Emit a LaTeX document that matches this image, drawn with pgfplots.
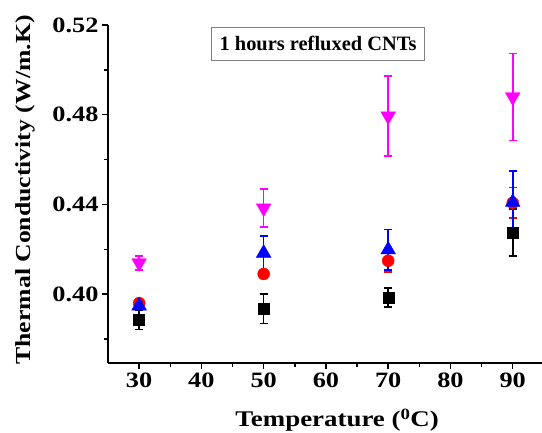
\documentclass[border=0pt]{standalone}
\usepackage{fontspec}
\setmainfont{Liberation Serif}
\newfontfamily\wideb{Liberation Serif Bold}[FakeStretch=1.2]
\usepackage{pgfplots}
\pgfplotsset{compat=1.18}
\definecolor{mag}{RGB}{255,0,255}
\begin{document}
\begin{tikzpicture}
\path[use as bounding box] (-108bp,-70bp) rectangle (434bp,363bp);
\begin{axis}[at={(0,0)}, anchor=south west, scale only axis,
  width=434bp, height=338bp,
  xmin=25, xmax=94.7, ymin=0.3693, ymax=0.52,
  axis x line*=bottom, axis y line*=left,
  axis line style={line width=1.6bp, -},
  xtick={30,40,...,90}, minor xtick={35,45,...,85},
  xticklabels={30,40,50,60,70,80,90},
  ytick={0.40,0.44,0.48,0.52}, minor ytick={0.38,0.42,0.46,0.50},
  yticklabels={0.40,0.44,0.48,0.52},
  tick align=outside, major tick length=6bp, minor tick length=4bp,
  every tick/.style={line width=1.5bp, black},
  ticklabel style={font=\wideb\fontsize{22}{24}\selectfont},
  every axis x label/.style={at={(axis description cs:0.528,-0.169)},anchor=center,
    font=\wideb\fontsize{22.5}{24}\selectfont},
  every axis y label/.style={at={(axis description cs:-0.191,0.512)},anchor=center,rotate=90,
    font=\wideb\fontsize{21.5}{24}\selectfont},
  xlabel={Temperature (\textsuperscript{0}C)},
  ylabel={Thermal Conductivity (W/m.K)},
  clip=false,
  error bars/y dir=both, error bars/y explicit,
  error bars/error bar style={line width=1.6bp},
  error bars/error mark options={rotate=90, mark size=4bp, line width=1.6bp},
]
\addplot[only marks, black, mark=square*, mark size=5.5bp] coordinates {
  (30,0.3885) +- (0,0.0042)
  (50,0.3935) +- (0,0.0066)
  (70,0.3985) +- (0,0.0043)
  (90,0.4275) +- (0,0.0105)
};
\addplot[only marks, red, mark=*, mark size=6bp] coordinates {
  (30,0.3960) +- (0,0.0015)
  (50,0.4090) +- (0,0.0015)
  (70,0.4149) +- (0,0.005)
  (90,0.4407) +- (0,0.0068)
};
\addplot[only marks, blue, mark=triangle*, mark size=8.5bp] coordinates {
  (30,0.3948) +- (0,0.0015)
  (50,0.4183) +- (0,0.0075)
  (70,0.4198) +- (0,0.009)
  (90,0.4410) +- (0,0.0138)
};
\addplot[only marks, mag, mark=triangle*, mark options={rotate=180}, mark size=8.5bp] coordinates {
  (30,0.4139) +- (0,0.0032)
  (50,0.4384) +- (0,0.0085)
  (70,0.4794) +- (0,0.0178)
  (90,0.4879) +- (0,0.0194)
};
\node[draw=gray, line width=1bp, fill=white, font=\fontsize{20.5}{22}\selectfont\bfseries,
  minimum width=213bp, minimum height=33bp, inner sep=2bp]
  at (rel axis cs:0.484,0.944) {1 hours refluxed CNTs};
\end{axis}
\end{tikzpicture}
\end{document}
